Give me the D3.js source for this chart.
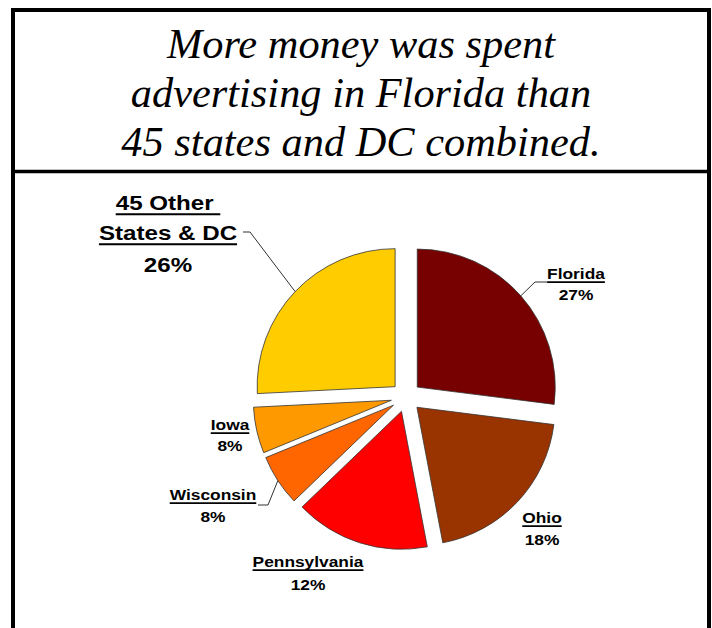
<!DOCTYPE html>
<html>
<head>
<meta charset="utf-8">
<script src="https://cdn.jsdelivr.net/npm/d3@7"></script>
<style>
  body { margin: 0; background: #fff; }
  svg { display: block; }
  .title { font-family: "Liberation Serif", "Times New Roman", serif; font-style: italic; font-size: 40px; }
</style>
</head>
<body>
<div id="chart"></div>
<script>
// slice shares as drawn (the printed percentages don't add up to 100)
const states = ["Florida", "Ohio", "Pennsylvania", "Wisconsin", "Iowa", "45 Other States & DC"];
const shares = [27, 20, 15.8, 6, 5.4, 25.8];
const pctLabels = ["27%", "18%", "12%", "8%", "8%", "26%"];
const colors = ["#770000", "#993300", "#ff0000", "#ff6600", "#ff9900", "#ffcc00"];

const titleLines = ["More money was spent", "advertising in Florida than", "45 states and DC combined."];

const width = 712, height = 628;
const cx = 406, cy = 397, radius = 138, explode = 15;

const data = states.map((s, i) => ({ state: s, share: shares[i], pct: pctLabels[i], color: colors[i] }));

// label placement: centre x, baseline of the name, baseline of the percent
const labelPos = {
    "Florida": { x: 576, y: 279, py: 300, size: 15.5, sx: 1.12 },
    "Ohio": { x: 542, y: 523, py: 545, size: 15.5, sx: 1.12 },
    "Pennsylvania": { x: 308, y: 567, py: 590, size: 15.5, sx: 1.12 },
    "Wisconsin": { x: 213, y: 500, py: 522, size: 15.5, sx: 1.12 },
    "Iowa": { x: 230, y: 430, py: 451, size: 15.5, sx: 1.12 },
    "45 Other States & DC": { x: 168, y: 210, y2: 240, py: 272, size: 21, sx: 1.15 }
};
// leader lines: knee point and end at the label
const leaders = {
    "Florida": [[535, 282], [547, 282]],
    "Wisconsin": [[268, 505], [258, 505]],
    "45 Other States & DC": [[250, 232], [243, 232]]
};

const svg = d3.select("#chart").append("svg")
    .attr("width", width)
    .attr("height", height);

// frame
svg.append("rect")
    .attr("x", 13).attr("y", 10)
    .attr("width", 709 - 13).attr("height", height + 20)
    .attr("fill", "none")
    .attr("stroke", "#000")
    .attr("stroke-width", 4);

svg.append("line")
    .attr("x1", 13).attr("x2", 709)
    .attr("y1", 171.5).attr("y2", 171.5)
    .attr("stroke", "#000")
    .attr("stroke-width", 3.5);

// title
svg.append("g")
    .attr("transform", "translate(361,0)")
    .selectAll("text")
    .data(titleLines)
    .join("text")
    .attr("class", "title")
    .attr("transform", (d, i) => `translate(0,${58 + i * 49}) scale(1.06,1.08)`)
    .attr("text-anchor", "middle")
    .text(d => d);

// pie
const pie = d3.pie().sort(null).value(d => d.share).startAngle(0);
const arc = d3.arc().innerRadius(0).outerRadius(radius);
const arcs = pie(data);

const slices = svg.append("g")
    .attr("transform", `translate(${cx},${cy})`);

slices.selectAll("path")
    .data(arcs)
    .join("path")
    .attr("transform", d => {
        const a = (d.startAngle + d.endAngle) / 2;
        return `translate(${Math.sin(a) * explode},${-Math.cos(a) * explode})`;
    })
    .attr("d", arc)
    .attr("fill", d => d.data.color)
    .attr("stroke", "#333")
    .attr("stroke-width", 0.8);

// leader lines start on the slice rim at the bisector
arcs.forEach(d => {
    const pts = leaders[d.data.state];
    if (!pts) return;
    const a = (d.startAngle + d.endAngle) / 2;
    const r = radius + explode;
    const start = [cx + Math.sin(a) * r, cy - Math.cos(a) * r];
    svg.append("path")
        .attr("d", d3.line()([start, ...pts]))
        .attr("fill", "none")
        .attr("stroke", "#333")
        .attr("stroke-width", 1);
});

// labels
const labelFont = "'Liberation Sans', Arial, sans-serif";

function underlined(g, str, y, size) {
    const t = g.append("text")
        .attr("x", 0).attr("y", y)
        .attr("text-anchor", "middle")
        .style("font-family", labelFont)
        .style("font-weight", "bold")
        .style("font-size", size + "px")
        .style("white-space", "pre")
        .text(str);
    const w = t.node().getComputedTextLength();
    g.append("line")
        .attr("x1", -w / 2).attr("x2", w / 2)
        .attr("y1", y + size * 0.2).attr("y2", y + size * 0.2)
        .attr("stroke", "#000")
        .attr("stroke-width", size > 18 ? 2 : 1.6);
}

data.forEach(d => {
    const p = labelPos[d.state];
    const g = svg.append("g")
        .attr("transform", `translate(${p.x},0) scale(${p.sx},1)`);
    if (p.y2) {
        underlined(g, "45 Other ", p.y, p.size);
        underlined(g, "States & DC", p.y2, p.size);
    } else {
        underlined(g, d.state, p.y, p.size);
    }
    g.append("text")
        .attr("x", 0).attr("y", p.py)
        .attr("text-anchor", "middle")
        .style("font-family", labelFont)
        .style("font-weight", "bold")
        .style("font-size", p.size + "px")
        .text(d.pct);
});
</script>
</body>
</html>
